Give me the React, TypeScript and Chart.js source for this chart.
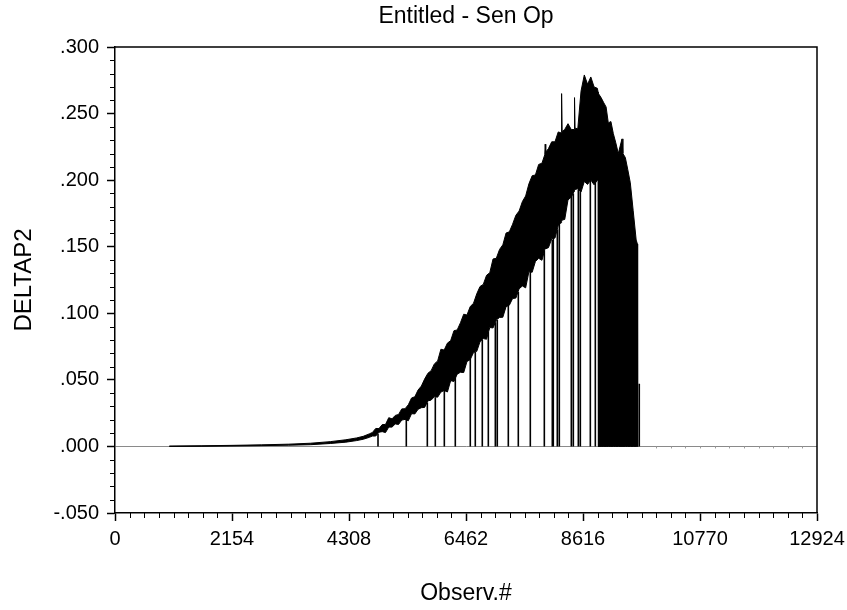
import React, { useEffect, useRef } from 'react';
import { Chart, registerables } from 'chart.js';

Chart.register(...registerables);

const TITLE = 'Entitled - Sen Op';
const X_TITLE = 'Observ.#';
const Y_TITLE = 'DELTAP2';

const xTicks = [0, 2154, 4308, 6462, 8616, 10770, 12924];
const yTicks = [-0.05, 0, 0.05, 0.1, 0.15, 0.2, 0.25, 0.3];
const yTickLabels = ['-.050', '.000', '.050', '.100', '.150', '.200', '.250', '.300'];
const xMinorPerMajor = 8;
const yMinorPerMajor = 5;

// Envelope of the dense DELTAP2 trace: observation #, upper edge, lower edge
const envObs = [
  1000, 1600, 2154, 2700, 3200, 3600, 3964, 4250, 4450, 4571, 4680, 4740,
  4800, 4860, 4920, 4980, 5040, 5100, 5160, 5220, 5280, 5340,
  5400, 5460, 5520, 5580, 5640, 5700, 5760, 5820, 5880, 5940,
  6000, 6060, 6120, 6180, 6240, 6300, 6360, 6420, 6480, 6540,
  6600, 6660, 6720, 6780, 6840, 6900, 6960, 7020, 7080, 7140,
  7200, 7260, 7320, 7380, 7440, 7500, 7560, 7620, 7680, 7740,
  7800, 7860, 7912, 7920, 7930, 7980, 8040, 8100, 8160, 8212,
  8222, 8232, 8280, 8340, 8400, 8452, 8460, 8470, 8520, 8580,
  8640, 8700, 8760, 8820, 8880, 8895,
  8900, 8949, 9000, 9041, 9082, 9130, 9174, 9220, 9266, 9334,
  9350, 9395, 9440, 9487, 9540, 9595, 9618, 9622,
];
const envUpper = [
  0.0003, 0.0005, 0.0008, 0.0012, 0.0017, 0.0024, 0.0036, 0.0050, 0.0064, 0.0076, 0.0094, 0.0105,
  0.0135, 0.0134, 0.0164, 0.0165, 0.0216, 0.0207, 0.0233, 0.0240, 0.0282, 0.0283,
  0.0313, 0.0364, 0.0373, 0.0424, 0.0453, 0.0506, 0.0549, 0.0569, 0.0620, 0.0642,
  0.0730, 0.0724, 0.0776, 0.0795, 0.0869, 0.0875, 0.0929, 0.0993, 0.0987, 0.1051,
  0.1075, 0.1146, 0.1201, 0.1217, 0.1285, 0.1305, 0.1408, 0.1413, 0.1480, 0.1514,
  0.1603, 0.1612, 0.1669, 0.1736, 0.1768, 0.1839, 0.1881, 0.1972, 0.2033, 0.2039,
  0.2118, 0.2127, 0.2190, 0.2270, 0.2210, 0.2237, 0.2288, 0.2288, 0.2362, 0.2355,
  0.2650, 0.2365, 0.2381, 0.2424, 0.2380, 0.2380, 0.2620, 0.2390, 0.2386, 0.2669,
  0.2790, 0.2720, 0.2775, 0.2700, 0.2690, 0.2660,
  0.2650, 0.2620, 0.2580, 0.2550, 0.2430, 0.2440, 0.2350, 0.2280, 0.2200, 0.2310,
  0.2200, 0.2170, 0.2080, 0.1980, 0.1770, 0.1550, 0.1520, 0.0000,
];
const envLower = [
  0.0000, 0.0001, 0.0003, 0.0006, 0.0009, 0.0013, 0.0022, 0.0032, 0.0044, 0.0054, 0.0068, 0.0078,
  0.0078, 0.0107, 0.0111, 0.0104, 0.0145, 0.0145, 0.0169, 0.0165, 0.0198, 0.0203,
  0.0193, 0.0246, 0.0244, 0.0279, 0.0291, 0.0293, 0.0342, 0.0348, 0.0373, 0.0370,
  0.0408, 0.0420, 0.0409, 0.0494, 0.0488, 0.0543, 0.0557, 0.0555, 0.0638, 0.0652,
  0.0705, 0.0714, 0.0786, 0.0810, 0.0805, 0.0893, 0.0890, 0.0949, 0.0969, 0.0970,
  0.1050, 0.1061, 0.1111, 0.1114, 0.1184, 0.1205, 0.1191, 0.1312, 0.1308, 0.1389,
  0.1413, 0.1398, 0.1476, 0.1494, 0.1485, 0.1493, 0.1559, 0.1565, 0.1659, 0.1680,
  0.1690, 0.1700, 0.1705, 0.1852, 0.1872, 0.1915, 0.1925, 0.1930, 0.1935, 0.1911,
  0.1990, 0.1968, 0.2001, 0.1965, 0.2000, 0.2000,
  0.0000, 0.0000, 0.0000, 0.0000, 0.0000, 0.0000, 0.0000, 0.0000, 0.0000, 0.0000,
  0.0000, 0.0000, 0.0000, 0.0000, 0.0000, 0.0000, 0.0000, 0.0000,
];

// Isolated drops of the trace down to zero: observation #, value where the drop starts
const spikeObs = [
  4842, 5363, 5750, 5897, 6063, 6265, 6541, 6633, 6762, 6873,
  7002, 7038, 7241, 7425, 7646, 7904, 8051, 8069, 8143, 8180,
  8401, 8438, 8530, 8567, 8751, 8843, 9652,
];
const spikeTop = [
  0.0095, 0.021, 0.033, 0.037, 0.043, 0.052, 0.066, 0.071, 0.080, 0.086,
  0.093, 0.095, 0.106, 0.116, 0.131, 0.147, 0.155, 0.157, 0.163, 0.167,
  0.190, 0.190, 0.193, 0.195, 0.200, 0.200, 0.047,
];

const FONT = "'Liberation Sans', Arial, Helvetica, sans-serif";

const framePlugin = {
  id: 'frameAndMinorTicks',
  afterDraw(chart: any) {
    const { ctx, chartArea } = chart;
    const { left, right, top, bottom } = chartArea;
    const xs = chart.scales.x;
    const ys = chart.scales.y;
    ctx.save();

    // title, centred over the plot area
    ctx.fillStyle = '#000';
    ctx.font = `23px ${FONT}`;
    ctx.textAlign = 'center';
    ctx.textBaseline = 'middle';
    ctx.fillText(TITLE, (left + right) / 2, 16.5);

    ctx.strokeStyle = '#000';
    ctx.lineWidth = 1.5;
    ctx.beginPath();
    ctx.moveTo(left, top);
    ctx.lineTo(right, top);
    ctx.lineTo(right, bottom);
    ctx.stroke();

    ctx.lineWidth = 1;
    ctx.beginPath();
    const xStep = (xTicks[1] - xTicks[0]) / xMinorPerMajor;
    const nx = (xTicks.length - 1) * xMinorPerMajor;
    for (let k = 0; k <= nx; k++) {
      if (k % xMinorPerMajor === 0) continue;
      const px = Math.round(xs.getPixelForValue(xTicks[0] + k * xStep)) + 0.5;
      ctx.moveTo(px, bottom);
      ctx.lineTo(px, bottom + 5);
    }
    const yStep = (yTicks[1] - yTicks[0]) / yMinorPerMajor;
    const ny = (yTicks.length - 1) * yMinorPerMajor;
    for (let k = 0; k <= ny; k++) {
      if (k % yMinorPerMajor === 0) continue;
      const py = Math.round(ys.getPixelForValue(yTicks[0] + k * yStep)) + 0.5;
      ctx.moveTo(left, py);
      ctx.lineTo(left - 5, py);
    }
    ctx.stroke();

    // small marks along the zero reference line
    const y0 = ys.getPixelForValue(0);
    ctx.strokeStyle = '#999';
    ctx.beginPath();
    for (let k = 1; k < nx; k++) {
      const v = xTicks[0] + k * xStep;
      if (v < 9700) continue;
      const px = Math.round(xs.getPixelForValue(v)) + 0.5;
      ctx.moveTo(px, y0);
      ctx.lineTo(px, y0 + 2);
    }
    ctx.stroke();
    ctx.restore();
  },
};

export default function App() {
  const ref = useRef<HTMLCanvasElement | null>(null);

  useEffect(() => {
    if (!ref.current) return;
    const lowerData = envObs.map((x, i) => ({ x, y: envLower[i] }));
    const upperData = envObs.map((x, i) => ({ x, y: envUpper[i] }));
    const spikeData: any[] = [];
    spikeObs.forEach((x, i) => {
      spikeData.push({ x, y: 0 }, { x, y: spikeTop[i] }, { x, y: null });
    });

    const chart = new Chart(ref.current, {
      type: 'line',
      data: {
        datasets: [
          {
            data: lowerData,
            borderColor: '#000',
            borderWidth: 1,
            pointRadius: 0,
            fill: false,
            tension: 0,
          },
          {
            data: upperData,
            borderColor: '#000',
            borderWidth: 1,
            pointRadius: 0,
            fill: '-1',
            backgroundColor: '#000',
            tension: 0,
          },
          {
            data: spikeData,
            borderColor: '#000',
            borderWidth: 1.6,
            pointRadius: 0,
            fill: false,
            spanGaps: false,
            tension: 0,
          },
        ] as any,
      },
      options: {
        responsive: false,
        animation: false,
        layout: { padding: { left: 0, right: 30, top: 47, bottom: 0 } },
        plugins: {
          legend: { display: false },
          tooltip: { enabled: false },
          title: { display: false },
        },
        scales: {
          x: {
            type: 'linear',
            min: 0,
            max: 12924,
            afterBuildTicks: (s: any) => {
              s.ticks = xTicks.map((v) => ({ value: v }));
            },
            afterFit: (s: any) => {
              s.height = 97;
              s.paddingLeft = 0;
              s.paddingRight = 0;
            },
            ticks: {
              color: '#000',
              font: { family: FONT, size: 20 },
              padding: 6.5,
              maxRotation: 0,
              autoSkip: false,
              callback: (v: any) => String(v),
            },
            grid: {
              drawOnChartArea: false,
              drawTicks: true,
              tickLength: 8,
              tickColor: '#000',
              tickWidth: 1.5,
            },
            border: { display: true, color: '#000', width: 1.5 },
            title: {
              display: true,
              text: X_TITLE,
              color: '#000',
              font: { family: FONT, size: 23 },
              padding: { top: 0, bottom: 3 },
            },
          },
          y: {
            type: 'linear',
            min: -0.05,
            max: 0.3,
            afterBuildTicks: (s: any) => {
              s.ticks = yTicks.map((v) => ({ value: v }));
            },
            afterFit: (s: any) => {
              s.width = 115;
              s.paddingTop = 0;
              s.paddingBottom = 0;
            },
            ticks: {
              color: '#000',
              font: { family: FONT, size: 20 },
              padding: 8,
              autoSkip: false,
              callback: (_v: any, i: number) => yTickLabels[i],
            },
            grid: {
              drawOnChartArea: true,
              drawTicks: true,
              tickLength: 8,
              tickColor: '#000',
              tickWidth: 1.5,
              lineWidth: 1,
              color: (c: any) => (c.tick && c.tick.value === 0 ? '#8a8a8a' : 'rgba(0,0,0,0)'),
            },
            border: { display: true, color: '#000', width: 1.5 },
            title: {
              display: true,
              text: Y_TITLE,
              color: '#000',
              font: { family: FONT, size: 24 },
              padding: { top: 9.6, bottom: 0 },
            },
          },
        },
      } as any,
      plugins: [framePlugin],
    });
    return () => chart.destroy();
  }, []);

  return (
    <div style={{ position: 'absolute', left: 0, top: 0, width: 847, height: 610, background: '#fff' }}>
      <canvas ref={ref} width={847} height={610} style={{ display: 'block' }} />
    </div>
  );
}
